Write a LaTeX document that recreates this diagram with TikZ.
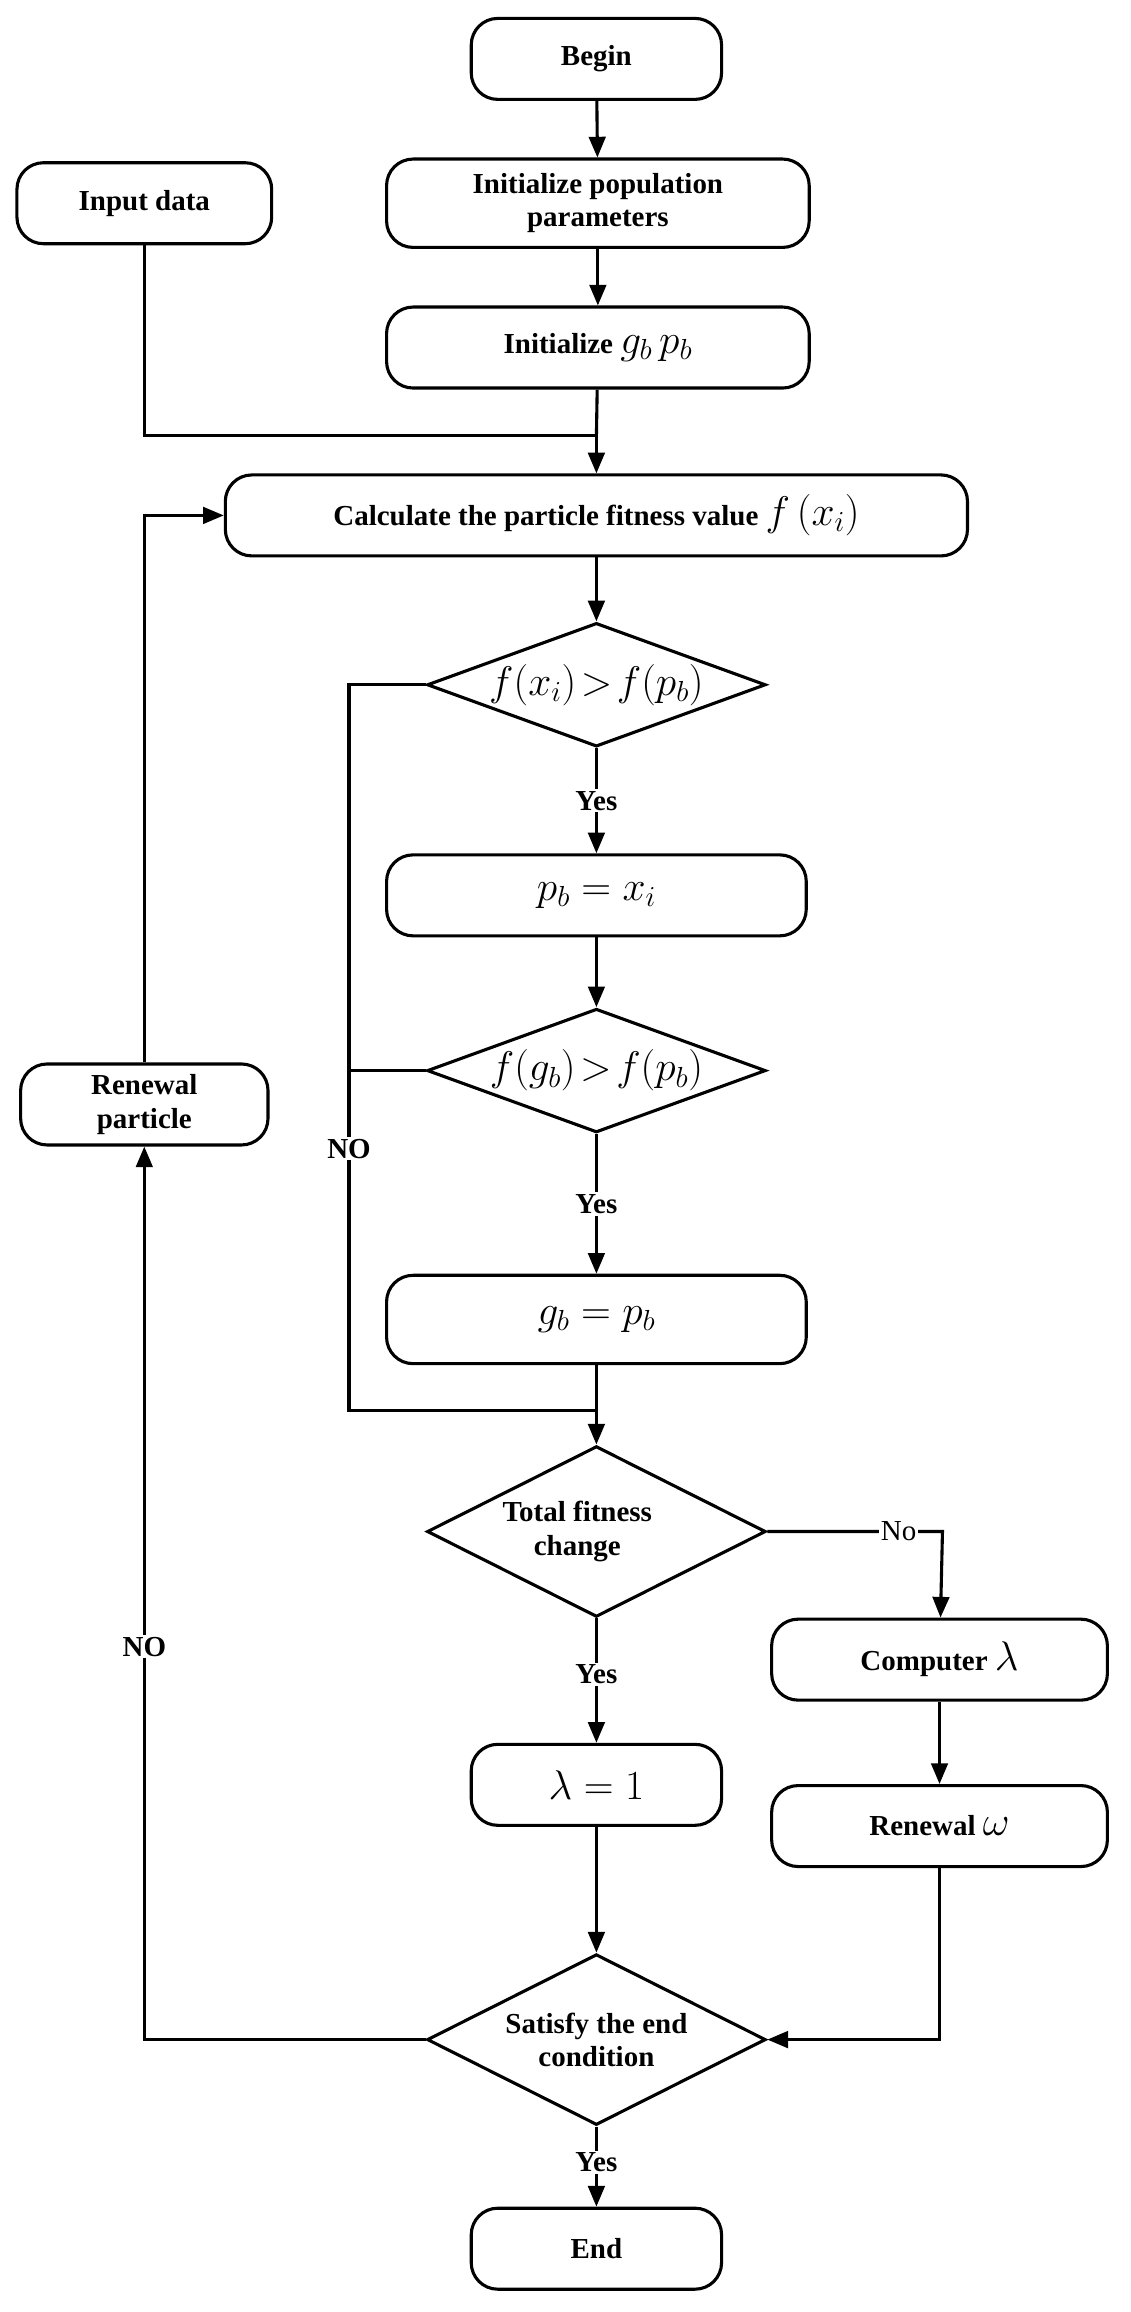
\RequirePackage{fix-cm}
\documentclass[tikz,border=0pt]{standalone}
\usepackage{fontspec}
\setmainfont{Liberation Serif}
\usetikzlibrary{shapes.geometric,arrows.meta}
\DeclareMathSizes{28}{28}{20}{14}
\DeclareMathSizes{40}{40}{28}{20}
\newcommand{\mbig}{\fontsize{40}{44}\selectfont}
\begin{document}
\begin{tikzpicture}[x=0.05cm,y=-0.05cm,
  every node/.style={font=\fontsize{28}{32}\selectfont\bfseries},
  box/.style={draw,line width=3pt,rounded corners=0.9cm,minimum height=2.75cm,align=center,inner sep=2pt},
  dia/.style={draw,line width=3pt,diamond,aspect=2.1,inner sep=0pt,align=center},
  ln/.style={line width=3pt},
  ar/.style={ln,-{Triangle[length=20pt,width=16pt]}},
  lab/.style={fill=white,inner sep=2pt}]
\useasboundingbox (0,0) rectangle (768,1570);
\node[box,minimum width=8.5cm] (begin) at (405,40) {Begin};
\node[box,minimum width=8.65cm] (input) at (98,138) {Input data};
\node[box,minimum width=14.35cm,minimum height=3cm] (initp) at (406,138) {Initialize population\\parameters};
\node[box,minimum width=14.35cm] (initg) at (406,236) {Initialize {\mbig$g_b\,p_b$}};
\node[box,minimum width=25.2cm] (calc) at (405,350) {Calculate the particle fitness value {\mbig$f\left(x_i\right)$}};
\node[dia,minimum width=11.5cm,minimum height=4.2cm] (d1) at (405,465) {};
\node at (405,465) {\mdseries\mbig$f(x_i)\!>\!f(p_b)$};
\node[box,minimum width=14.25cm] (pb) at (405,608) {\mdseries\mbig$p_b=x_i$};
\node[dia,minimum width=11.5cm,minimum height=4.2cm] (d2) at (405,727) {};
\node at (405,727) {\mdseries\mbig$f(g_b)\!>\!f(p_b)$};
\node[box,minimum width=14.25cm,minimum height=3cm] (gb) at (405,896) {\mdseries\mbig$g_b=p_b$};
\node[dia,minimum width=11.5cm,minimum height=5.8cm] (d3) at (405,1040) {};
\node[align=center] at (392,1040) {Total fitness\\change};
\node[box,minimum width=11.4cm] (comp) at (638,1127) {Computer {\mbig$\lambda$}};
\node[box,minimum width=8.5cm] (lam) at (405,1212) {\mdseries\mbig$\lambda=1$};
\node[box,minimum width=11.4cm] (ren) at (638,1240) {Renewal {\mbig$\omega$}};
\node[dia,minimum width=11.5cm,minimum height=5.8cm] (d4) at (405,1385) {};
\node[align=center] at (405,1385) {Satisfy the end\\condition};
\node[box,minimum width=8.5cm] (end) at (405,1527) {End};
\node[box,minimum width=8.4cm] (rp) at (98,750) {Renewal\\particle};
\coordinate (j1) at (405,296);
\coordinate (j2) at (405,958);
\draw[ar] (begin) -- (initp);
\draw[ar] (initp) -- (initg);
\draw[ln] (initg) -- (j1);
\draw[ln] (input) |- (j1);
\draw[ar] (j1) -- (calc);
\draw[ar] (calc) -- (d1);
\draw[ar] (d1) -- node[lab,pos=0.5]{Yes} (pb);
\draw[ar] (pb) -- (d2);
\draw[ar] (d2) -- node[lab,pos=0.5]{Yes} (gb);
\draw[ln] (gb) -- (j2);
\draw[ln] (d1.west) -- (237,465) -- (237,958) -- (j2);
\draw[ln] (d2.west) -- (237,727);
\node[lab] at (237,780) {NO};
\draw[ar] (j2) -- (d3);
\draw[ar] (d3) -- node[lab,pos=0.45]{Yes} (lam);
\draw[ar] (d3.east) -- node[lab,pos=0.75,font=\fontsize{28}{32}\selectfont]{No} (640,1040) -- (comp);
\draw[ar] (comp) -- (ren);
\draw[ar] (ren) |- (d4.east);
\draw[ar] (lam) -- (d4);
\draw[ar] (d4) -- node[lab,pos=0.45]{Yes} (end);
\draw[ar] (d4.west) -| node[lab,pos=0.72]{NO} (rp);
\draw[ar] (rp) |- (calc);
\end{tikzpicture}
\end{document}
